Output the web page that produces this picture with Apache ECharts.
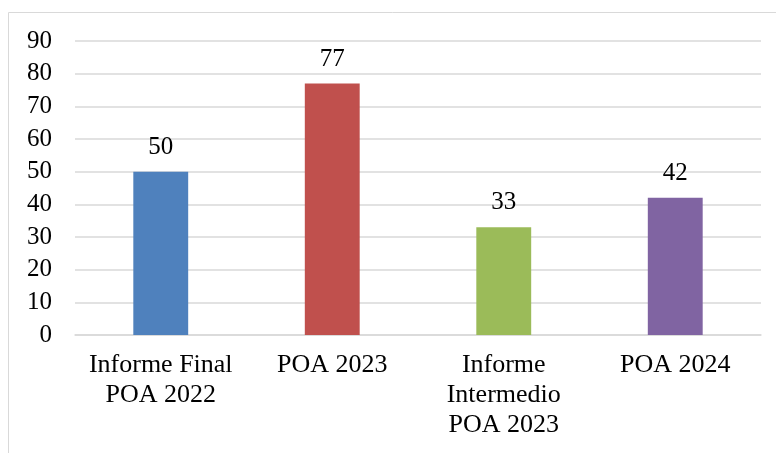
<!DOCTYPE html>
<html>
<head>
<meta charset="utf-8">
<script src="https://cdn.jsdelivr.net/npm/echarts@6/dist/echarts.min.js"></script>
<style>
  html, body { margin: 0; padding: 0; background: #fff; }
  #chart { width: 776px; height: 453px; }
</style>
</head>
<body>
<div id="chart"></div>
<script>
const categories = ['Informe Final\nPOA 2022', 'POA 2023', 'Informe\nIntermedio\nPOA 2023', 'POA 2024']
const values = [50, 77, 33, 42]
const barColors = ['#4F81BD', '#C0504D', '#9BBB59', '#8064A2']
const yTicks = { min: 0, max: 90, interval: 10 }

const font = 'Liberation Serif, Times New Roman, serif'
const chart = echarts.init(document.getElementById('chart'))

chart.setOption({
  animation: false,
  textStyle: { fontFamily: font },
  graphic: [{
    type: 'rect',
    shape: { x: 8.5, y: 12.5, width: 900, height: 600 },
    style: { fill: 'none', stroke: '#d9d9d9', lineWidth: 1 },
    silent: true
  }],
  grid: {
    left: 75,
    right: 15,
    top: 41,
    bottom: 118
  },
  xAxis: {
    type: 'category',
    data: categories,
    axisTick: { show: false },
    axisLine: { lineStyle: { color: '#d9d9d9', width: 1.5 } },
    axisLabel: {
      color: '#000',
      fontFamily: font,
      fontSize: 26,
      lineHeight: 30,
      margin: 15,
      interval: 0
    }
  },
  yAxis: {
    type: 'value',
    min: yTicks.min,
    max: yTicks.max,
    interval: yTicks.interval,
    axisLine: { show: false },
    axisTick: { show: false },
    splitLine: { lineStyle: { color: '#d9d9d9', width: 1.5 } },
    axisLabel: {
      color: '#000',
      fontFamily: font,
      fontSize: 25,
      margin: 23
    }
  },
  series: [{
    type: 'bar',
    data: values.map((v, i) => ({ value: v, itemStyle: { color: barColors[i] } })),
    barWidth: '32%',
    label: {
      show: true,
      position: 'top',
      distance: 12,
      color: '#000',
      fontFamily: font,
      fontSize: 25
    }
  }]
})
</script>
</body>
</html>
